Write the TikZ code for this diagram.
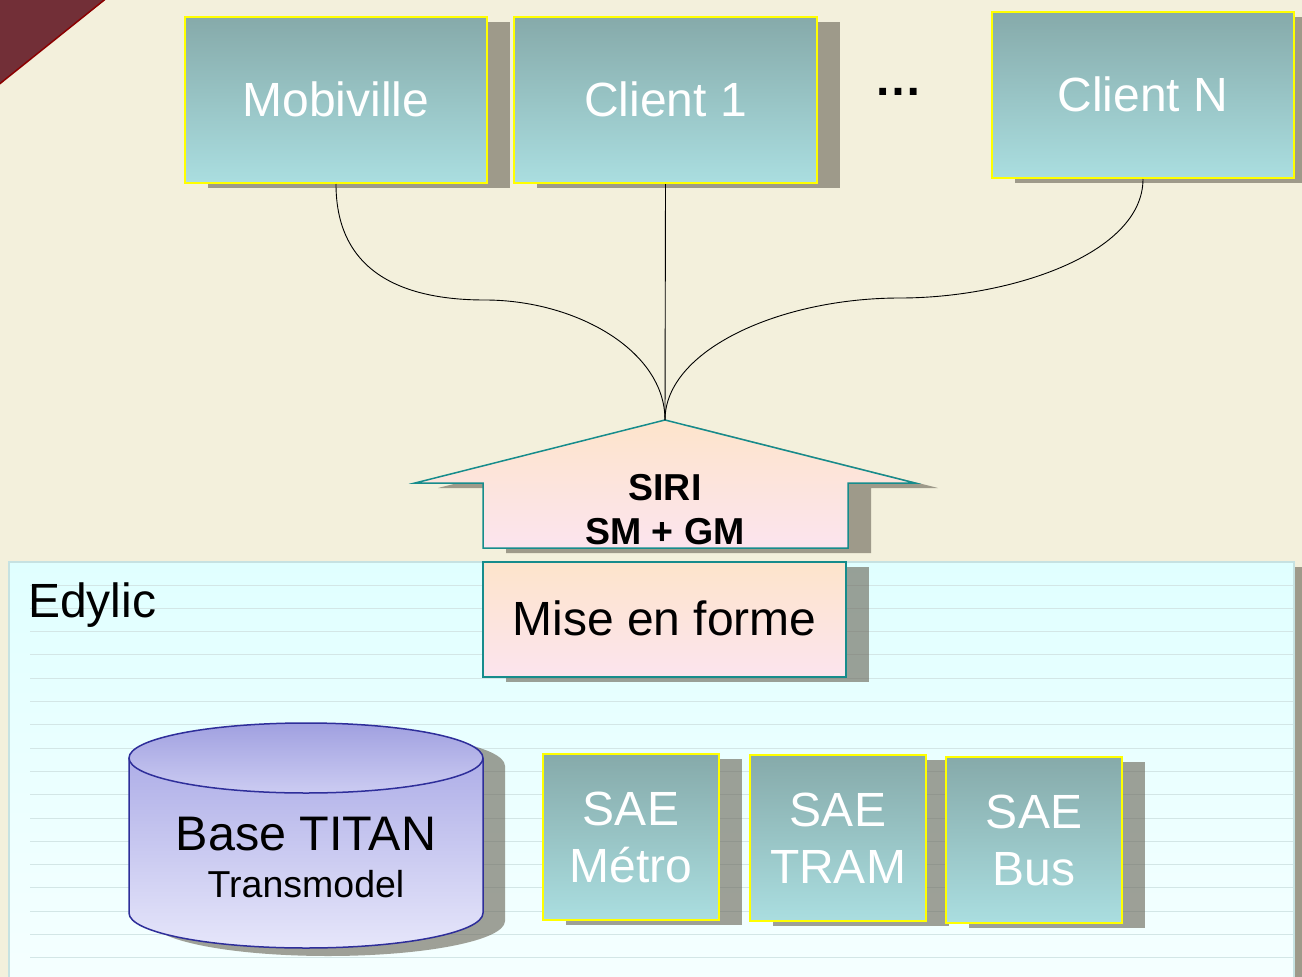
\documentclass[tikz,border=0pt]{standalone}
\usepackage{fontspec}
\setmainfont{Liberation Sans}
\usetikzlibrary{shadows}
\definecolor{bg}{HTML}{F3F0DC}
\definecolor{redc}{HTML}{722F37}
\definecolor{redb}{HTML}{8B0000}
\definecolor{boxtop}{HTML}{86AAAA}
\definecolor{boxbot}{HTML}{AADEE0}
\definecolor{yellowb}{HTML}{FFFF00}
\definecolor{shadowc}{HTML}{6A6658}
\definecolor{tealb}{HTML}{168C8C}
\definecolor{peachtop}{HTML}{FDE4CB}
\definecolor{peachbot}{HTML}{FCE4EE}
\definecolor{paneltop}{HTML}{E0FFFF}
\definecolor{panelbot}{HTML}{F5FFFF}
\definecolor{panelb}{HTML}{C6E2E2}
\definecolor{panell}{HTML}{D3E6E6}
\definecolor{cylb}{HTML}{2E2E9A}
\definecolor{cyltop}{HTML}{A4A4E4}
\definecolor{cylbot}{HTML}{E6E6FA}
\definecolor{captop}{HTML}{A0A0E0}
\definecolor{capbot}{HTML}{CCCCF2}
\begin{document}
\begin{tikzpicture}[x=1pt,y=-1pt,
  shadowfill/.style={fill=shadowc, opacity=.62},
  tealbox/.style={draw=yellowb, line width=2pt, top color=boxtop, bottom color=boxbot,
    text=white, font=\fontsize{48}{57}\selectfont, align=center, inner sep=0pt,
    drop shadow={shadow xshift=23pt, shadow yshift=-5pt, fill=shadowc, opacity=.62}},
  peachbox/.style={draw=tealb, line width=1.5pt, top color=peachtop, bottom color=peachbot,
    text=black, inner sep=0pt,
    drop shadow={shadow xshift=23pt, shadow yshift=-5pt, fill=shadowc, opacity=.62}},
  conn/.style={draw=black, line width=0.9pt},
  lbl/.style={text=black, inner sep=0pt}
]
\useasboundingbox (0,0) rectangle (1302,977);
\fill[bg] (0,0) rectangle (1302,977);
% corner shape
\filldraw[fill=redc, draw=redb, line width=1.5pt] (-3,-3) -- (108,-3) -- (-3,86) -- cycle;

% Edylic panel
\fill[shadowfill] (1294,567) rectangle (1306,982);
\shade[top color=paneltop, bottom color=panelbot] (9,562) rectangle (1294,982);
\draw[panelb, line width=1.2pt] (1294,982) -- (1294,562) -- (9,562) -- (9,982);
\foreach \k in {0,...,17} {
  \draw[panell, line width=0.9pt] (30,{585+23.3*\k}) -- (1293,{585+23.3*\k});
}
\node[lbl, anchor=base west, font=\fontsize{48}{50}\selectfont] (edylic) at (28,617) {Edylic};

% top boxes
\node[tealbox, minimum width=302pt, minimum height=166pt, text depth=2pt] (mob) at (336,100) {Mobiville};
\node[tealbox, minimum width=303pt, minimum height=166pt, text depth=2pt] (cl1) at (665.5,100) {Client 1};
\node[tealbox, minimum width=302pt, minimum height=166pt, text depth=2pt] (cln) at (1143,95) {Client N};
\node[lbl, font=\bfseries\fontsize{48}{50}\selectfont] (dots) at (898,92) {…};

% SIRI arrow
\coordinate (apex) at (665,420);
\fill[shadowfill, shift={(23,5)}] (665,420) -- (915,483) -- (848,483) -- (848,548) -- (483,548) -- (483,483) -- (415,483) -- cycle;
\filldraw[draw=tealb, line width=1.5pt, top color=peachtop, bottom color=peachbot]
  (apex) -- (915,483) -- (848,483) -- (848,548) -- (483,548) -- (483,483) -- (415,483) -- cycle;
\node[lbl, align=center, font=\bfseries\fontsize{37.5}{44}\selectfont] (siri) at (665,510) {SIRI\\SM + GM};

% Mise en forme
\node[peachbox, minimum width=363pt, minimum height=115pt, text depth=3pt, font=\fontsize{48}{50}\selectfont] (mef) at (664.5,619.5) {Mise en forme};

% connectors
\draw[conn] (mob.south) .. controls +(0,90) and +(-80,0) .. (485,300) .. controls +(90,0) and +(0,-70) .. (apex);
\draw[conn] (cl1.south) -- (apex);
\draw[conn] (cln.south) .. controls +(0,75) and +(110,0) .. (900,298) .. controls +(-120,0) and +(0,-70) .. (apex);

% cylinder
\begin{scope}[shift={(22,8)}]
\fill[shadowfill] (129,758) -- (129,913) arc[start angle=180, end angle=0, x radius=177, y radius=35] -- (483,758) arc[start angle=0, end angle=-180, x radius=177, y radius=35] -- cycle;
\end{scope}
\shade[top color=cyltop, bottom color=cylbot] (129,758) -- (129,913) arc[start angle=180, end angle=0, x radius=177, y radius=35] -- (483,758) arc[start angle=0, end angle=-180, x radius=177, y radius=35] -- cycle;
\draw[cylb, line width=1.5pt] (129,758) -- (129,913) arc[start angle=180, end angle=0, x radius=177, y radius=35] -- (483,758);
\shade[top color=captop, bottom color=capbot] (306,758) ellipse[x radius=177, y radius=35];
\draw[cylb, line width=1.5pt] (306,758) ellipse[x radius=177, y radius=35];
\node[lbl, anchor=base, font=\fontsize{48.5}{50}\selectfont] (dbtitle) at (306,850) {Base TITAN};
\node[lbl, anchor=base, font=\fontsize{37.5}{40}\selectfont] (dbsub) at (306,897) {Transmodel};

% SAE boxes
\node[tealbox, minimum width=176pt, minimum height=166pt] (metro) at (631,837) {SAE\\Métro};
\node[tealbox, minimum width=176pt, minimum height=166pt] (tram) at (838,838) {SAE\\TRAM};
\node[tealbox, minimum width=176pt, minimum height=166pt] (bus) at (1034,840) {SAE\\Bus};
\end{tikzpicture}
\end{document}
